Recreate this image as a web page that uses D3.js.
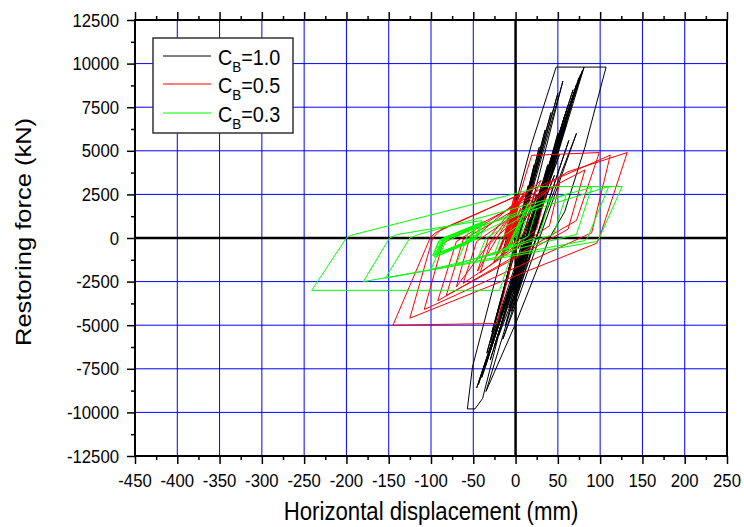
<!DOCTYPE html>
<html><head><meta charset="utf-8">
<script src="https://cdn.jsdelivr.net/npm/d3@7/dist/d3.min.js"></script>
<style>body{margin:0;background:#fff} text{font-family:Arial,"Liberation Sans",sans-serif;fill:#000}</style>
</head><body><svg id="c" width="744" height="527"></svg>
<script>
// ---------- data ----------
const xTickValues = [-450,-400,-350,-300,-250,-200,-150,-100,-50,0,50,100,150,200,250];
const xMinorValues = [-425,-375,-325,-275,-225,-175,-125,-75,-25,25,75,125,175,225];
const yTickValues = [-12500,-10000,-7500,-5000,-2500,0,2500,5000,7500,10000,12500];
const yMinorValues = [-11250,-8750,-6250,-3750,-1250,1250,3750,6250,8750,11250];
const xTitle = "Horizontal displacement (mm)";
const yTitle = "Restoring force (kN)";
const seriesMain = ["C","C","C"];
const seriesSub = ["B","B","B"];
const seriesValue = ["=1.0","=0.5","=0.3"];

// displacement (mm), force (kN) — C_B = 1.0
const cb10 = [
[0,0],[8,1500],[-4,-800],[15,3000],[-8,-1800],[22,4200],[-12,-2600],[28,5200],[-16,-3400],[20,3600],[-10,-2400],[35,6200],[-22,-4400],[42,7200],[-28,-5400],[50,8300],[-34,-6600],[56,9000],
[-39,-9200],[-48,-9800],[-57,-9800],[-51,-7400],[-30,-3500],[19,5400],[48,9800],[107,9800],[82,5200],[58,1500],[40,0],[1,-4800],[-35,-8800],
[81,9800],[-46,-8600],[75,9200],[-40,-8000],[79,9600],[-44,-8400],[68,8500],[-36,-7400],[72,8800],[-30,-7000],[62,7600],[-25,-6200],[77,9400],[-20,-5600],[72,6000],[5,-3200],[-15,-5800],[63,5600],[-5,-4200],[66,7600],[-12,-5000],[58,7000],[0,-3500],[55,5800],[-8,-4000],[50,6000],[10,-1500],[-3,-3000],[45,5000],[5,-2000],[38,4200],[-2,-2400],[32,3200],[8,-800],[25,2500],[3,-600],[18,1200],
[-30,-6000],[60,6500],[-6,-2600],[52,4800],[12,-600],[46,3600],[-18,-4600],[30,2800],[0,0]
];
// C_B = 0.5
const cb05 = [
[0,0],[3,800],[-5,-400],[5,1300],[-9,-700],[2,1100],[-13,-900],[6,1700],[-17,-1000],[1,1000],[-10,-500],[4,1900],[-20,-800],[-3,1300],[-15,-1100],[3,2100],[-8,-200],[-22,-1000],[0,1500],[-18,-600],
[4,2400],[-12,200],[2,2200],[-16,-300],[5,2500],[-10,400],[-2,2300],[-14,0],[3,2000],[-6,600],[0,2400],[-11,100],
[10,2600],[-45,-1900],[-32,0],[20,3000],[-70,-2800],[-56,-300],[30,3300],[5,600],[-22,-4900],[-145,-5000],[-101,0],[-95,300],[5,2500],[19,4740],[99,4900],[72,1000],[-92,-3600],[-70,-200],[62,3800],[132,4900],[99,0],[96,-300],[-125,-4600],[-98,0],[-88,500],[112,4750],[90,300],[-108,-4100],[-86,-300],[82,3900],[62,500],[-82,-3300],[-62,-100],[52,3100],[40,700],[-62,-2600],[-46,-200],[36,2600],[25,500],[-42,-2000],[-30,-300],[20,2000],[10,300],[-26,-1400],[-16,-200],[8,1200],[0,0]
];
// C_B = 0.3
const cb03 = [
[0,0],[6,900],[-8,-600],[10,1500],[-12,-800],[15,2000],[-19,-3000],[-241,-3000],[-200,0],[-195,150],[20,2800],[24,2950],[126,2950],[99,0],[96,-200],[-180,-2500],[-149,0],[-140,200],
[-40,1000],[-48,0],[-97,-1000],[-90,-100],[-45,800],[-52,-100],[-92,-900],[-85,0],[-38,950],[-45,50],[-88,-800],[-80,100],[-35,900],[-42,0],[-94,-950],[-86,-50],[-40,850],[-47,-50],[-90,-850],[-83,50],
[-50,600],[-56,-300],[-96,-1100],[-89,-250],[-55,500],[-60,-400],[-98,-1000],[-91,-200],[-48,700],[-54,-200],[-93,-1050],[-87,-300],[-44,650],
[110,2950],[85,0],[82,-150],[-154,-2300],[-125,0],[-115,200],[90,2900],[72,200],[-100,-1800],[-85,-100],[60,2500],[45,200],[-70,-1500],[-58,-100],[40,2200],[28,100],[-45,-1200],[-35,0],[25,1700],[15,100],[-25,-900],[-18,0],[12,1000],[5,0]
];
const seriesData = [cb10, cb05, cb03];
const seriesColors = ["#000000","#ff0000","#00ff00"];

// ---------- layout ----------
const L=135, R=727, T=20, B=456;
const svg = d3.select("#c");
const x = d3.scaleLinear().domain([-450,250]).range([L,R]);
const y = d3.scaleLinear().domain([-12500,12500]).range([B,T]);

svg.append("rect").attr("x",0).attr("y",0).attr("width",744).attr("height",527).attr("fill","#fff");
svg.append("defs").append("clipPath").attr("id","clip").append("rect")
  .attr("x",L).attr("y",T).attr("width",R-L).attr("height",B-T);

// grid
const grid = svg.append("g").attr("stroke","#0000ff").attr("stroke-width",1);
xTickValues.filter(v=>v!==0 && v>-450 && v<250).forEach(v=>{
  grid.append("line").attr("x1",x(v)).attr("x2",x(v)).attr("y1",T).attr("y2",B);
});
yTickValues.filter(v=>v!==0 && v>-12500 && v<12500).forEach(v=>{
  grid.append("line").attr("x1",L).attr("x2",R).attr("y1",y(v)).attr("y2",y(v));
});
// zero lines
svg.append("line").attr("x1",x(0)).attr("x2",x(0)).attr("y1",T).attr("y2",B).attr("stroke","#000").attr("stroke-width",2.5);
svg.append("line").attr("x1",L).attr("x2",R).attr("y1",y(0)).attr("y2",y(0)).attr("stroke","#000").attr("stroke-width",2.5);

// series
const line = d3.line().x(d=>x(d[0])).y(d=>y(d[1]));
const dataG = svg.append("g").attr("clip-path","url(#clip)");
seriesData.forEach((s,i)=>{
  dataG.append("path").datum(s).attr("d",line).attr("fill","none")
    .attr("stroke",seriesColors[i]).attr("stroke-width",1).attr("stroke-linejoin","miter");
});

// frame
svg.append("rect").attr("x",L).attr("y",T).attr("width",R-L).attr("height",B-T)
  .attr("fill","none").attr("stroke","#000").attr("stroke-width",2);

// axes ticks
const axB = d3.axisBottom(x).tickValues(xTickValues).tickSize(8).tickSizeOuter(0).tickFormat("");
const axBm = d3.axisBottom(x).tickValues(xMinorValues).tickSize(4).tickSizeOuter(0).tickFormat("");
const axT = d3.axisTop(x).tickValues(xTickValues).tickSize(8).tickSizeOuter(0).tickFormat("");
const axTm = d3.axisTop(x).tickValues(xMinorValues).tickSize(4).tickSizeOuter(0).tickFormat("");
const axL = d3.axisLeft(y).tickValues(yTickValues).tickSize(8).tickSizeOuter(0).tickFormat("");
const axLm = d3.axisLeft(y).tickValues(yMinorValues).tickSize(4).tickSizeOuter(0).tickFormat("");
[[axB,`translate(0,${B})`],[axBm,`translate(0,${B})`],[axT,`translate(0,${T})`],[axTm,`translate(0,${T})`],[axL,`translate(${L},0)`],[axLm,`translate(${L},0)`]].forEach(([a,t])=>{
  const g = svg.append("g").attr("transform",t).call(a);
  g.select(".domain").remove();
  g.selectAll(".tick line").attr("stroke","#000").attr("stroke-width",1.5);
});

// tick labels
const lab = svg.append("g").attr("font-size","18.6px");
xTickValues.forEach(v=>{
  lab.append("text").attr("transform",`translate(${x(v)},487) scale(0.9,1)`)
    .attr("text-anchor","middle").text(v);
});
yTickValues.forEach(v=>{
  lab.append("text").attr("transform",`translate(119,${y(v)+6.6}) scale(0.9,1)`)
    .attr("text-anchor","end").text(v);
});

// titles
svg.append("text").attr("transform","translate(431,520) scale(0.87,1)")
  .attr("text-anchor","middle").attr("font-size","25.5px").text(xTitle);
svg.append("text").attr("transform","translate(31,232) scale(0.87,1) rotate(-90)")
  .attr("text-anchor","middle").attr("font-size","25.5px").text(yTitle);

// legend
const lg = svg.append("g");
lg.append("rect").attr("x",153).attr("y",38).attr("width",140).attr("height",95)
  .attr("fill","#fff").attr("stroke","#333").attr("stroke-width",1.5);
const legY = [56,84,113];
seriesColors.forEach((c,i)=>{
  lg.append("line").attr("x1",163).attr("x2",211).attr("y1",legY[i]).attr("y2",legY[i])
    .attr("stroke",c).attr("stroke-width",1);
  const t = lg.append("text").attr("transform",`translate(218,${legY[i]+8.5}) scale(0.9,1)`).attr("font-size","22px");
  t.append("tspan").text(seriesMain[i]);
  t.append("tspan").attr("font-size","15px").attr("dy",7).text(seriesSub[i]);
  t.append("tspan").attr("font-size","22px").attr("dy",-7).text(seriesValue[i]);
});
</script>
</body></html>
